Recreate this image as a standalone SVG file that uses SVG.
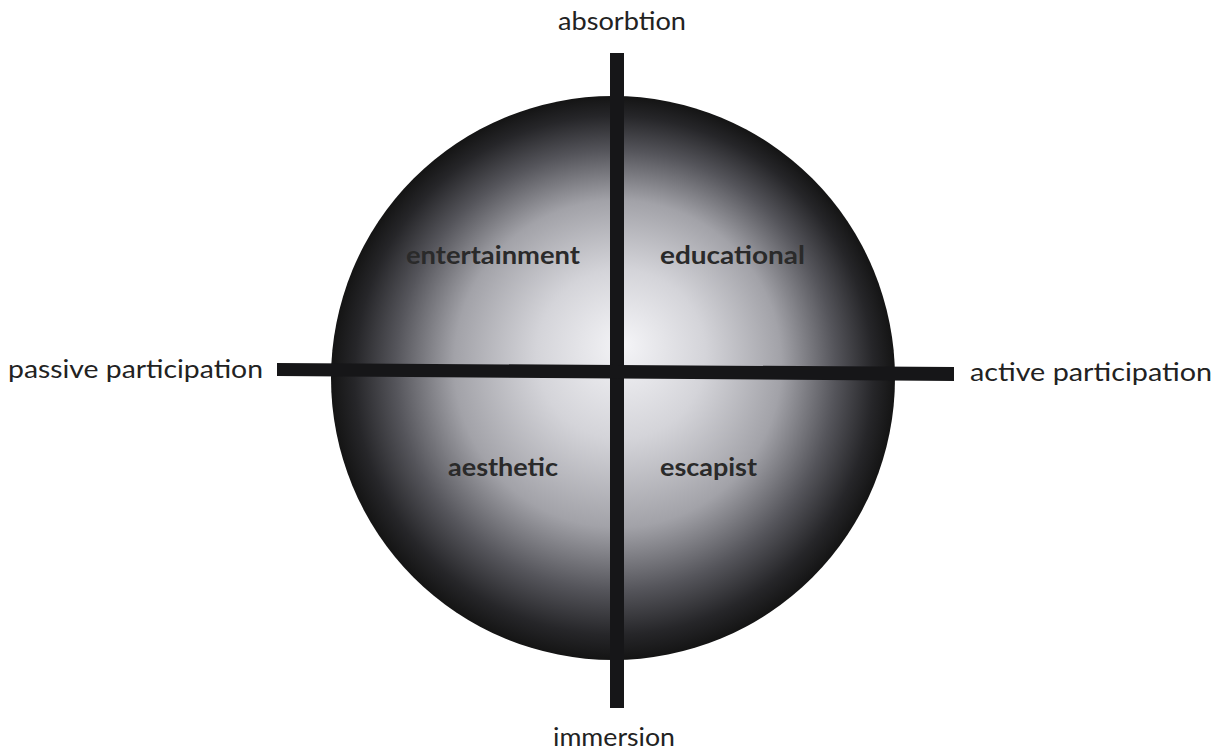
<svg xmlns="http://www.w3.org/2000/svg" width="1228" height="754" viewBox="0 0 1228 754">
  <defs>
    <radialGradient id="sphere" cx="0.5" cy="0.5" r="0.5" fx="0.52" fy="0.44">
      <stop offset="0" stop-color="#f4f4f7"/>
      <stop offset="0.3" stop-color="#d4d4d9"/>
      <stop offset="0.58" stop-color="#a2a2a8"/>
      <stop offset="0.78" stop-color="#55555b"/>
      <stop offset="0.92" stop-color="#262629"/>
      <stop offset="1" stop-color="#141414"/>
    </radialGradient>
    <style>
      .axis { font-family: Lato, "Liberation Sans", sans-serif; font-size: 25px; fill: #222; }
      .quad { font-family: Lato, "Liberation Sans", sans-serif; font-size: 24px; font-weight: bold; fill: #2a2a2a; }
      .bar { fill: #161618; }
    </style>
  </defs>
  <rect width="1228" height="754" fill="#ffffff"/>
  <g id="sphere-node">
    <circle cx="613" cy="378" r="282" fill="url(#sphere)"/>
  </g>
  <g id="connectors">
    <rect class="bar" x="610" y="53" width="14" height="655"/>
    <polygon class="bar" points="277,363 954,367 954,381 277,376"/>
  </g>
  <g id="axis-labels">
    <text id="absorbtion" class="axis" x="622" y="30" text-anchor="middle" textLength="128" lengthAdjust="spacingAndGlyphs">absorbtion</text>
    <text id="immersion" class="axis" x="614" y="746" text-anchor="middle" textLength="122" lengthAdjust="spacingAndGlyphs">immersion</text>
    <text id="passive" class="axis" x="8" y="378" textLength="255" lengthAdjust="spacingAndGlyphs">passive participation</text>
    <text id="active" class="axis" x="970" y="381" textLength="242" lengthAdjust="spacingAndGlyphs">active participation</text>
  </g>
  <g id="quadrant-labels">
    <text id="entertainment" class="quad" x="406" y="264" textLength="174" lengthAdjust="spacingAndGlyphs">entertainment</text>
    <text id="educational" class="quad" x="660" y="264" textLength="145" lengthAdjust="spacingAndGlyphs">educational</text>
    <text id="aesthetic" class="quad" x="448" y="476" textLength="110" lengthAdjust="spacingAndGlyphs">aesthetic</text>
    <text id="escapist" class="quad" x="660" y="476" textLength="97" lengthAdjust="spacingAndGlyphs">escapist</text>
  </g>
</svg>
